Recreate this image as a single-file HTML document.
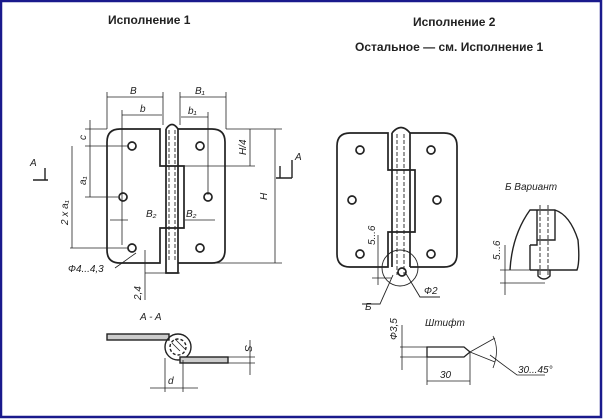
<!DOCTYPE html>
<html><head><meta charset="utf-8"><style>
html,body{margin:0;padding:0;background:#fff}
svg{display:block}
text{font-family:"Liberation Sans","DejaVu Sans",sans-serif;fill:#222}
.t{font-weight:bold;font-size:12px}
.i{font-style:italic;font-size:10px}
</style></head><body>
<svg width="603" height="419" viewBox="0 0 603 419" xmlns="http://www.w3.org/2000/svg">
<rect x="1" y="1" width="600" height="416" fill="#fff" stroke="#1a1a8c" stroke-width="2.5"/>
<text class="t" x="108" y="24">Исполнение 1</text>
<text class="t" x="413" y="26">Исполнение 2</text>
<text class="t" x="355" y="51">Остальное — см. Исполнение 1</text>

<!-- LEFT HINGE -->
<g stroke="#222" fill="none" stroke-width="1.7">
<path d="M160,129 H120 Q107,129 107,142 V250 Q107,263 120,263 H160 V228 H184 V166 H160 Z"/>
<path d="M178,129 H212 Q225,129 225,142 V250 Q225,263 212,263 H178"/>
<path d="M166,263 V273 H178 V263"/>
<path d="M166,129 Q172,120 178,129"/>
<line x1="166" y1="129" x2="166" y2="263"/><line x1="178" y1="129" x2="178" y2="263"/>
<g stroke-dasharray="4,2" stroke-width="0.9"><line x1="169" y1="130" x2="169" y2="262"/><line x1="175" y1="130" x2="175" y2="262"/></g>
<circle cx="132" cy="146" r="4"/><circle cx="123" cy="197" r="4"/><circle cx="132" cy="248" r="4"/>
<circle cx="200" cy="146" r="4"/><circle cx="208" cy="197" r="4"/><circle cx="200" cy="248" r="4"/>
</g>
<g stroke="#222" fill="none" stroke-width="0.8">
<line x1="107" y1="92" x2="107" y2="129"/><line x1="163" y1="92" x2="163" y2="125"/><line x1="107" y1="97" x2="163" y2="97"/>
<line x1="180" y1="92" x2="180" y2="125"/><line x1="226" y1="92" x2="226" y2="129"/><line x1="180" y1="97" x2="226" y2="97"/>
<line x1="122" y1="110" x2="122" y2="245"/><line x1="122" y1="115" x2="162" y2="115"/>
<line x1="208" y1="112" x2="208" y2="195"/><line x1="181" y1="117" x2="208" y2="117"/>
<line x1="226" y1="129" x2="282" y2="129"/><line x1="178" y1="263" x2="282" y2="263"/><line x1="275" y1="129" x2="275" y2="263"/>
<line x1="184" y1="166" x2="255" y2="166"/><line x1="250" y1="129" x2="250" y2="166"/>
<line x1="85" y1="129" x2="107" y2="129"/><line x1="85" y1="146" x2="128" y2="146"/><line x1="85" y1="197" x2="118" y2="197"/><line x1="70" y1="248" x2="128" y2="248"/>
<line x1="90" y1="120" x2="90" y2="197"/><line x1="72" y1="146" x2="72" y2="248"/>
<line x1="110" y1="220" x2="128" y2="220"/><line x1="185" y1="220" x2="215" y2="220"/>
<line x1="145" y1="250" x2="145" y2="300"/><line x1="145" y1="273" x2="180" y2="273"/>
<line x1="136" y1="253" x2="115" y2="268"/>
<path d="M280,178 V166 M276,178 H292 M292,178 V160" stroke-width="1.4"/>
<path d="M45,180 V168 M33,180 H48" stroke-width="1.4"/>
</g>
<text class="i" x="130" y="94">B</text><text class="i" x="195" y="94">B₁</text>
<text class="i" x="140" y="112">b</text><text class="i" x="188" y="114">b₁</text>
<text class="i" x="146" y="217">B₂</text><text class="i" x="186" y="217">B₂</text>
<text class="i" x="68" y="272" font-size="9">Ф4...4,3</text>
<text class="i" x="295" y="160">A</text><text class="i" x="30" y="166">A</text>
<text class="i" x="267" y="200" transform="rotate(-90 267 200)">H</text>
<text class="i" x="246" y="155" transform="rotate(-90 246 155)" font-size="9">H/4</text>
<text class="i" x="86" y="185" transform="rotate(-90 86 185)">a₁</text>
<text class="i" x="86" y="140" transform="rotate(-90 86 140)">c</text>
<text class="i" x="68" y="225" transform="rotate(-90 68 225)" font-size="9">2 x a₁</text>
<text class="i" x="141" y="300" transform="rotate(-90 141 300)" font-size="9">2,4</text>

<!-- A-A -->
<text class="i" x="140" y="320">A - A</text>
<g stroke="#222" fill="none" stroke-width="1.4">
<rect x="107" y="334" width="62" height="6" fill="#ccc"/>
<circle cx="178" cy="347" r="13"/><circle cx="178" cy="347" r="8" stroke-dasharray="3,2"/>
<path d="M172,343 L180,351 M175,339 L185,349" stroke-width="0.8"/>
<rect x="180" y="357" width="48" height="6" fill="#ccc"/>
<line x1="228" y1="357" x2="255" y2="357" stroke-width="0.8"/><line x1="228" y1="363" x2="255" y2="363" stroke-width="0.8"/>
<line x1="250" y1="340" x2="250" y2="375" stroke-width="0.8"/>
<line x1="165" y1="358" x2="165" y2="392" stroke-width="0.8"/><line x1="183" y1="360" x2="183" y2="392" stroke-width="0.8"/>
<line x1="150" y1="388" x2="198" y2="388" stroke-width="0.8"/>
</g>
<text class="i" x="168" y="384">d</text>
<text class="i" x="245" y="345" transform="rotate(90 245 345)">S</text>

<!-- RIGHT HINGE -->
<g stroke="#222" fill="none" stroke-width="1.7">
<path d="M388,133 H350 Q337,133 337,146 V254 Q337,267 350,267 H388 V232 H415 V170 H388 Z"/>
<path d="M410,133 H444 Q457,133 457,146 V254 Q457,267 444,267 H410"/>
<path d="M392,133 Q401,122 410,133"/>
<line x1="392" y1="133" x2="392" y2="267"/><line x1="410" y1="133" x2="410" y2="267"/>
<g stroke-dasharray="4,2" stroke-width="0.9"><line x1="397" y1="134" x2="397" y2="275"/><line x1="404" y1="134" x2="404" y2="275"/></g>
<circle cx="360" cy="150" r="4"/><circle cx="431" cy="150" r="4"/><circle cx="352" cy="200" r="4"/><circle cx="437" cy="200" r="4"/><circle cx="360" cy="254" r="4"/><circle cx="431" cy="254" r="4"/>
<circle cx="402" cy="272" r="4"/>
<circle cx="400" cy="268" r="18" stroke-width="0.9"/>
<path d="M393,275 L380,304 H362 M405,272 L420,297 H440" stroke-width="0.9"/>
<line x1="378" y1="235" x2="378" y2="285" stroke-width="0.8"/><line x1="372" y1="278" x2="392" y2="278" stroke-width="0.8"/>
</g>
<text class="i" x="365" y="310" font-size="11">Б</text>
<text class="i" x="424" y="294">Ф2</text>
<text class="i" x="375" y="245" transform="rotate(-90 375 245)" font-size="9">5...6</text>

<!-- Б Вариант -->
<text class="i" x="505" y="190">Б Вариант</text>
<g stroke="#222" fill="none" stroke-width="1.4">
<path d="M510,270 Q512,235 530,210 H555 Q570,215 578,240 Q580,262 577,270 H530"/>
<path d="M530,245 H537 V210 M555,210 V240 H537 M530,245 V270"/>
<g stroke-dasharray="4,2" stroke-width="0.9"><line x1="540" y1="205" x2="540" y2="275"/><line x1="548" y1="205" x2="548" y2="275"/></g>
<path d="M538,270 V276 Q544,282 550,276 V270"/>
<g stroke-width="0.8"><line x1="500" y1="270" x2="530" y2="270"/><line x1="500" y1="283" x2="545" y2="283"/><line x1="505" y1="245" x2="505" y2="295"/></g>
</g>
<text class="i" x="500" y="260" transform="rotate(-90 500 260)" font-size="9">5...6</text>

<!-- Штифт -->
<text class="i" x="425" y="326">Штифт</text>
<g stroke="#222" fill="none" stroke-width="1.3">
<path d="M427,347 H464 L470,352 L464,357 H427 Z"/>
<g stroke-width="0.8">
<line x1="400" y1="347" x2="427" y2="347"/><line x1="400" y1="357" x2="427" y2="357"/><line x1="402" y1="325" x2="402" y2="370"/>
<line x1="427" y1="357" x2="427" y2="385"/><line x1="470" y1="352" x2="470" y2="385"/><line x1="427" y1="381" x2="470" y2="381"/>
<path d="M470,352 L495,338 M470,352 L495,362 M493,336 Q500,350 493,368 M490,355 L517,375 H545"/>
</g></g>
<text class="i" x="397" y="340" transform="rotate(-90 397 340)" font-size="9">Ф3,5</text>
<text class="i" x="440" y="378">30</text>
<text class="i" x="518" y="373">30...45°</text>
</svg>
</body></html>
